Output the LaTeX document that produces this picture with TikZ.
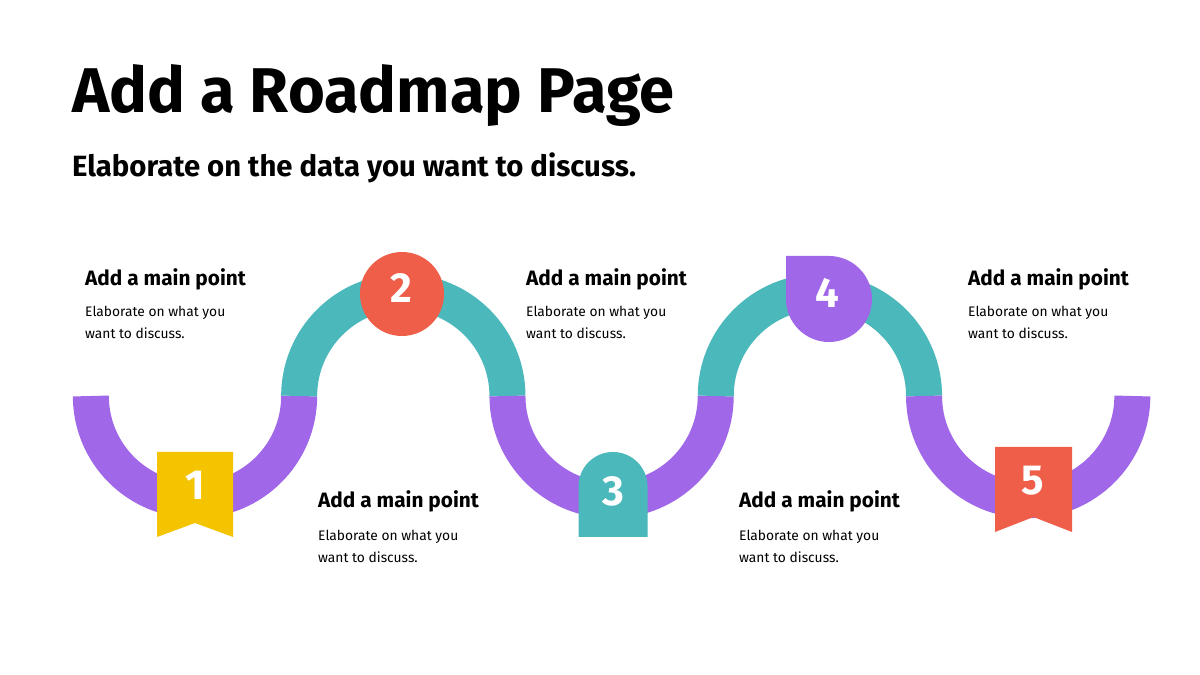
\documentclass[tikz,border=0pt]{standalone}
\usepackage{fontspec}
\setmainfont{Fira Sans}
\definecolor{rmpurple}{HTML}{A068E8}
\definecolor{rmteal}{HTML}{4BB8BC}
\definecolor{rmred}{HTML}{EE5E48}
\definecolor{rmyellow}{HTML}{F5C400}
\begin{document}
\begin{tikzpicture}[x=1pt,y=1pt,
  band/.style={line width=36pt,line cap=butt},
  num/.style={text=white,font=\fontsize{42}{42}\selectfont\bfseries,inner sep=0pt,anchor=center},
  head/.style={anchor=base west,inner sep=0pt,font=\fontsize{20.8}{24}\selectfont\bfseries},
  body/.style={anchor=base west,inner sep=0pt,align=left,font=\fontsize{13.8}{22}\selectfont},
  title/.style={anchor=base west,inner sep=0pt,font=\fontsize{63.2}{70}\selectfont\bfseries},
  subtitle/.style={anchor=base west,inner sep=0pt,font=\fontsize{29.3}{34}\selectfont\bfseries}]
\useasboundingbox (0,0) rectangle (1200,675);
\fill[white] (0,0) rectangle (1200,675);

% wave
\draw[band,rmpurple] (90.85,279) arc[start angle=180,end angle=360,radius=104.15];
\draw[band,rmteal] (299.15,279) arc[start angle=180,end angle=0,radius=104.15];
\draw[band,rmpurple] (507.45,279) arc[start angle=180,end angle=360,radius=104.15];
\draw[band,rmteal] (715.75,279) arc[start angle=180,end angle=0,radius=104.15];
\draw[band,rmpurple] (924.05,279) arc[start angle=180,end angle=360,radius=104.15];

% marker 1: yellow ribbon
\fill[rmyellow] (157,223) -- (233,223) -- (233,138) -- (195,152) -- (157,138) -- cycle;
\node[num] (n1) at (195,190) {1};
% marker 2: red circle
\fill[rmred] (402,381) circle[radius=42];
\node[num] (n2) at (401,387) {2};
% marker 3: teal arch
\fill[rmteal] (578.5,138) -- (578.5,188.5) arc[start angle=180,end angle=0,radius=34.5] -- (647.5,138) -- cycle;
\node[num] (n3) at (613,184) {3};
% marker 4: purple drop
\fill[rmpurple] (786,419) -- (829,419) arc[start angle=90,end angle=-180,radius=43] -- cycle;
\node[num] (n4) at (827,382) {4};
% marker 5: red ribbon
\fill[rmred] (995,228) -- (1072,228) -- (1072,143) -- (1033.5,158) -- (995,143) -- cycle;
\node[num] (n5) at (1033,194) {5};

% titles
\node[title] (title) at (72,562) {Add a Roadmap Page};
\node[subtitle] (subtitle) at (72,498) {Elaborate on the data you want to discuss.};

% text blocks
\node[head] (h1) at (85,389) {Add a main point};
\node[body] (b1) at (85,336) {Elaborate on what you\\want to discuss.};
\node[head] (h2) at (318,167) {Add a main point};
\node[body] (b2) at (318,112) {Elaborate on what you\\want to discuss.};
\node[head] (h3) at (526,389) {Add a main point};
\node[body] (b3) at (526,336) {Elaborate on what you\\want to discuss.};
\node[head] (h4) at (739,167) {Add a main point};
\node[body] (b4) at (739,112) {Elaborate on what you\\want to discuss.};
\node[head] (h5) at (968,389) {Add a main point};
\node[body] (b5) at (968,336) {Elaborate on what you\\want to discuss.};
\end{tikzpicture}
\end{document}
